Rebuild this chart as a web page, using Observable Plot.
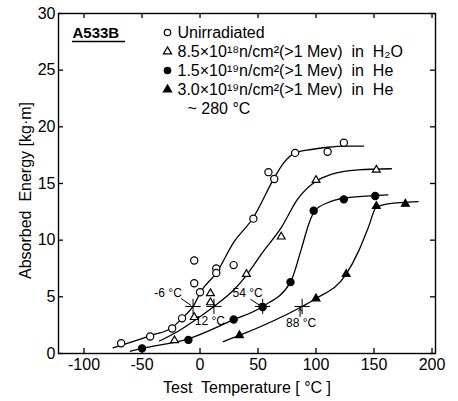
<!DOCTYPE html>
<html><head><meta charset="utf-8">
<script src="https://cdn.jsdelivr.net/npm/d3@7"></script>
<script src="https://cdn.jsdelivr.net/npm/@observablehq/plot@0.6"></script>
<style>body{margin:0;background:#fff}</style>
</head><body><div id="chart"></div>
<script>
// ---- data ----
const xTicks = [-100, -50, 0, 50, 100, 150, 200];
const yTicks = [0, 5, 10, 15, 20, 25, 30];

// Unirradiated (open circles)
const unirrT = [-68, -43, -24, -15.5, -5, -5, 0, 14, 14, 29, 46, 59, 64, 82, 110, 124];
const unirrE = [0.9, 1.5, 2.2, 3.1, 6.2, 8.2, 5.4, 7.5, 7.1, 7.8, 11.9, 16.0, 15.4, 17.7, 17.8, 18.6];
const unirrCurveT = [-75, -42, -24, -15.5, -6, 1, 14, 29, 46, 64, 72, 82, 96, 110, 124, 141];
const unirrCurveE = [0.5, 1.6, 2.3, 3.1, 4.15, 5.5, 7.1, 9.8, 12.0, 15.5, 16.8, 17.7, 18.0, 18.2, 18.3, 18.3];

// 8.5e18 in H2O (open triangles)
const h2oT = [-22, -5, 9, 9, 40, 70, 100, 152];
const h2oE = [1.15, 3.2, 5.3, 4.5, 7.0, 10.3, 15.3, 16.2];
const h2oCurveT = [-35, -20, -5, 12, 29, 40, 53, 70, 84, 100, 113, 136, 165];
const h2oCurveE = [1.1, 1.9, 2.9, 4.15, 5.6, 6.9, 8.8, 11.1, 13.6, 15.2, 15.8, 16.2, 16.3];

// 1.5e19 in He (filled circles)
const he15T = [-50, -10, 29, 54, 78, 98, 124, 151];
const he15E = [0.45, 1.2, 3.0, 4.1, 6.3, 12.6, 13.6, 13.9];
const he15CurveT = [-60, -50, -10, 27, 54, 78, 87, 94, 99, 110, 124, 162];
const he15CurveE = [0.2, 0.45, 1.3, 2.9, 4.15, 6.3, 9.1, 11.5, 12.6, 13.3, 13.7, 14.0];

// 3.0e19 in He (filled triangles)
const he30T = [34, 100, 126, 152, 177];
const he30E = [1.6, 4.85, 7.0, 13.0, 13.2];
const he30CurveT = [20, 34, 88, 100, 126, 137, 145, 152, 162, 188];
const he30CurveE = [1.05, 1.6, 4.15, 4.85, 7.0, 9.1, 11.1, 12.9, 13.2, 13.4];

// transition temperatures marked on the curves
const markT = [-6, 12, 54, 88];
const markE = [4.15, 4.15, 4.15, 4.15];
const markLabels = ["-6 °C", "12 °C", "54 °C", "88 °C"];

const legendLabels = [
  "Unirradiated",
  "8.5×10¹⁸n/cm²(>1 Mev)  in  H₂O",
  "1.5×10¹⁹n/cm²(>1 Mev)  in  He",
  "3.0×10¹⁹n/cm²(>1 Mev)  in  He"
];
const legendSymbols = ["circle", "triangle", "circle", "triangle"];
const legendFills = ["white", "white", "black", "black"];
const legendNote = "~ 280 °C";
const title = "A533B";

// ---- layout ----
const W = 458, H = 401, mL = 58, mR = 23, mT = 13, mB = 48;
const xDom = [-122, 203], yDom = [0, 30];
const plotW = W - mL - mR, plotH = H - mT - mB;
const pxX = plotW / (xDom[1] - xDom[0]);
const pxY = plotH / (yDom[1] - yDom[0]);
const invX = px => xDom[0] + (px - mL) / pxX;
const invY = py => yDom[1] - (py - mT) / pxY;
const offX = (t, dpx) => t + dpx / pxX;
const offY = (e, dpy) => e - dpy / pxY;

const zip = (a, b) => a.map((t, i) => ({t, e: b[i]}));
const unirr = zip(unirrT, unirrE), unirrC = zip(unirrCurveT, unirrCurveE);
const h2o = zip(h2oT, h2oE), h2oC = zip(h2oCurveT, h2oCurveE);
const he15 = zip(he15T, he15E), he15C = zip(he15CurveT, he15CurveE);
const he30 = zip(he30T, he30E), he30C = zip(he30CurveT, he30CurveE);
const marks = markT.map((t, i) => ({t, e: markE[i], label: markLabels[i]}));

// label offsets (px) relative to each marked crossing
const labelOff = [[-25, -13], [-4, 15], [-15, -13], [-1, 17]];
const legend = legendLabels.map((l, i) => ({label: l, symbol: legendSymbols[i], fill: legendFills[i], i}));

const lineOpts = {x: "t", y: "e", curve: "monotone-x", stroke: "black", strokeWidth: 1.3};
const dotOpts = {x: "t", y: "e", stroke: "black", strokeWidth: 1.2};

const chart = Plot.plot({
  width: W, height: H,
  marginLeft: mL, marginRight: mR, marginTop: mT, marginBottom: mB,
  style: {fontFamily: "Liberation Sans, Arial, sans-serif", fontSize: "16px", color: "black", background: "white"},
  x: {domain: xDom, ticks: xTicks, tickSize: 0, tickPadding: 5, tickFormat: d => String(d), label: null},
  y: {domain: yDom, ticks: yTicks, tickSize: 0, tickPadding: 3, tickFormat: d => String(d), label: null},
  marks: [
    Plot.frame({stroke: "black", strokeWidth: 1.4}),
    // inward ticks on all four sides
    Plot.ruleX(xTicks, {x: d => d, insetTop: plotH - 5, stroke: "black", strokeWidth: 1.3}),
    Plot.ruleX(xTicks, {x: d => d, insetBottom: plotH - 5, stroke: "black", strokeWidth: 1.3}),
    Plot.ruleY(yTicks, {y: d => d, insetRight: plotW - 5, stroke: "black", strokeWidth: 1.3}),
    Plot.ruleY(yTicks, {y: d => d, insetLeft: plotW - 5, stroke: "black", strokeWidth: 1.3}),
    // fitted curves
    Plot.line(unirrC, lineOpts),
    Plot.line(h2oC, lineOpts),
    Plot.line(he15C, lineOpts),
    Plot.line(he30C, lineOpts),
    // data points
    Plot.dot(unirr, {...dotOpts, r: 3.6, symbol: "circle", fill: "white"}),
    Plot.dot(h2o, {...dotOpts, r: 2.9, symbol: "triangle", fill: "white"}),
    Plot.dot(he15, {...dotOpts, r: 3.6, symbol: "circle", fill: "black"}),
    Plot.dot(he30, {...dotOpts, r: 2.9, symbol: "triangle", fill: "black"}),
    // transition temperature marks
    Plot.dot(marks, {x: "t", y: "e", symbol: "plus", r: 5, stroke: "black", strokeWidth: 1}),
    Plot.link([marks[0]], {x1: d => offX(d.t, -2), y1: d => offY(d.e, -1), x2: d => offX(d.t, -12), y2: d => offY(d.e, -8), stroke: "black", strokeWidth: 1}),
    Plot.arrow([marks[2]], {x1: d => offX(d.t, -12), y1: d => offY(d.e, -7), x2: d => offX(d.t, -1), y2: d => offY(d.e, 0), stroke: "black", strokeWidth: 1, headLength: 5}),
    Plot.arrow([marks[3]], {x1: d => offX(d.t, -2), y1: d => offY(d.e, 10), x2: d => offX(d.t, -2), y2: d => offY(d.e, 2), stroke: "black", strokeWidth: 1, headLength: 4}),
    Plot.text(marks, {x: d => offX(d.t, labelOff[marks.indexOf(d)][0]), y: d => offY(d.e, labelOff[marks.indexOf(d)][1]), text: "label", fontSize: 12, fill: "black"}),
    // title inside plot
    Plot.text([title], {x: invX(72), y: invY(33), text: d => d, textAnchor: "start", fontWeight: "bold", fontSize: 15, fill: "black"}),
    Plot.ruleY([invY(41)], {x1: invX(72), x2: invX(125), stroke: "black", strokeWidth: 1.3}),
    // legend
    Plot.dot(legend, {x: invX(167), y: d => invY(32 + d.i * 19), symbol: "symbol", fill: "fill", r: d => d.symbol === "triangle" ? 2.7 : 3.1, stroke: "black", strokeWidth: 1.2}),
    Plot.text(legend, {x: invX(177), y: d => invY(32 + d.i * 19), text: "label", textAnchor: "start", fontSize: 16, fill: "black"}),
    Plot.text([legendNote], {x: invX(187), y: invY(108), text: d => d, textAnchor: "start", fontSize: 16, fill: "black"}),
    // axis titles
    Plot.text(["Test  Temperature [ °C ]"], {frameAnchor: "bottom", dy: 39, text: d => d, textAnchor: "middle", fontSize: 16, fill: "black"}),
    Plot.text(["Absorbed  Energy [kg·m]"], {frameAnchor: "left", dx: -33, dy: 7, rotate: -90, text: d => d, textAnchor: "middle", fontSize: 16, fill: "black"})
  ]
});
document.getElementById("chart").appendChild(chart);
</script>
</body></html>
